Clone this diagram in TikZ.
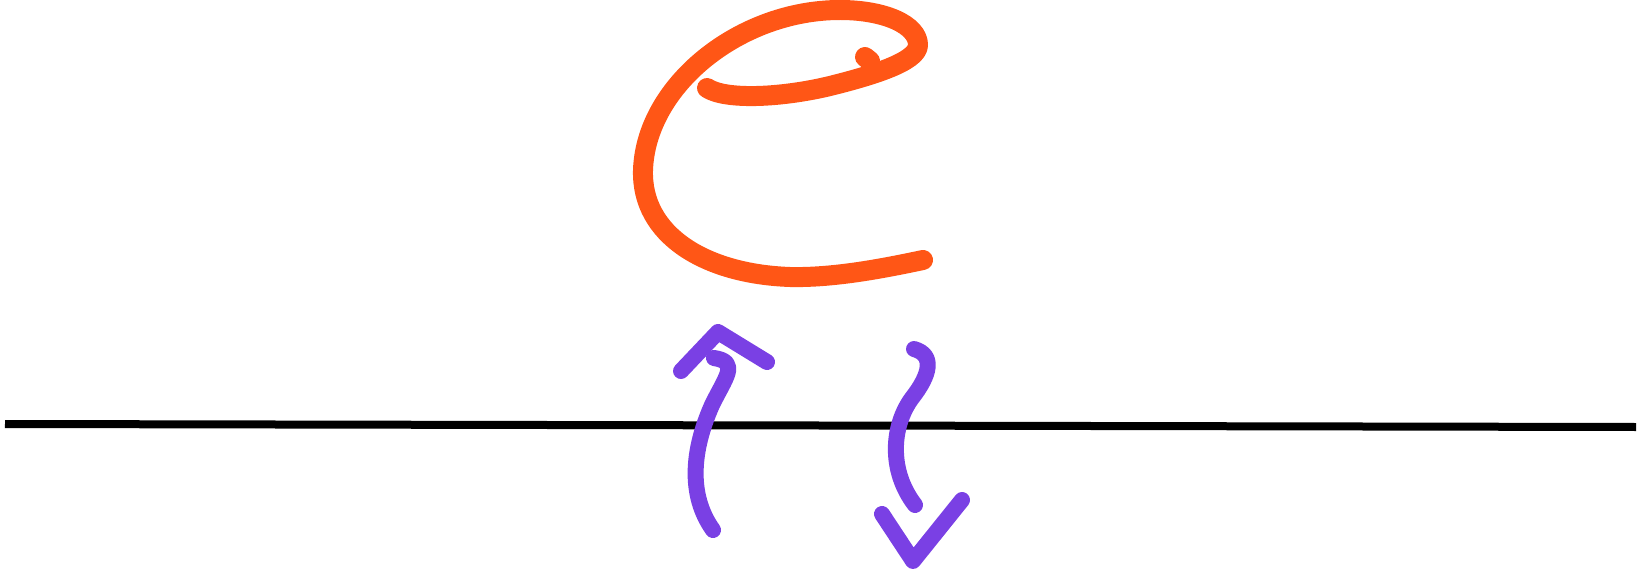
\documentclass[tikz,border=0pt]{standalone}
\definecolor{markorange}{RGB}{255,86,22}
\definecolor{markpurple}{RGB}{122,64,228}
\tikzset{
  orangestroke/.style={draw=markorange,line width=10pt,line cap=round,line join=round},
  purplestroke/.style={draw=markpurple,line width=8pt,line cap=round,line join=round},
  baseline/.style={draw=black,line width=4pt}
}
\begin{document}
\begin{tikzpicture}[x=0.5pt,y=-0.5pt]
\useasboundingbox (0,0) rectangle (1642,577);
% orange e
\draw[orangestroke] (707,88)
  .. controls (725,100) and (780,98) .. (830,86)
  .. controls (870,76) and (918,62) .. (918,45)
  .. controls (918,25) and (885,10) .. (840,10)
  .. controls (740,10) and (646,85) .. (643,170)
  .. controls (641,235) and (705,274) .. (790,277)
  .. controls (835,278) and (885,268) .. (923,260);
\draw[orangestroke] (865,57) -- (870,61);
% black line
\coordinate (la) at (5,424);
\coordinate (lb) at (1636,427);
\draw[baseline] (la) -- (lb);
% left up arrow
\draw[purplestroke] (713,530)
  .. controls (688,495) and (692,450) .. (712,405)
  .. controls (725,378) and (740,362) .. (714,358);
\draw[purplestroke] (681,371) -- (718,332) -- (767,362);
% right down arrow
\draw[purplestroke] (914,349)
  .. controls (935,355) and (930,375) .. (912,398)
  .. controls (892,425) and (888,470) .. (915,505);
\draw[purplestroke] (882,514) -- (913,561) -- (962,500);
\end{tikzpicture}
\end{document}
